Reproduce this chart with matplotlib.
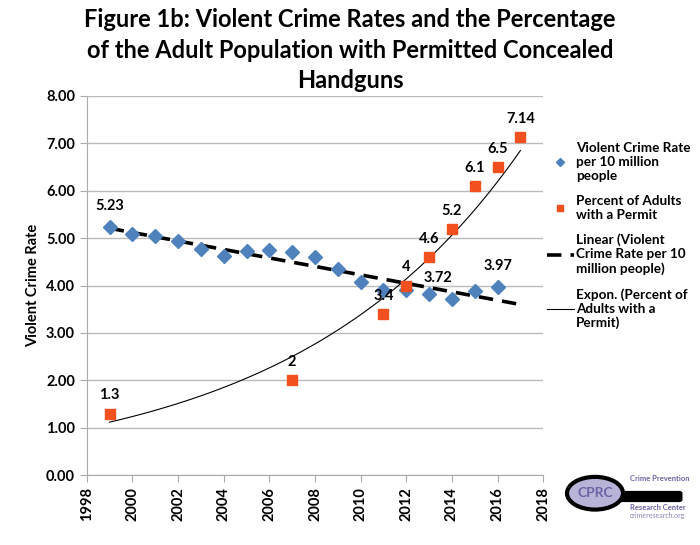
import matplotlib
matplotlib.use("Agg")
import matplotlib.pyplot as plt
import numpy as np
from matplotlib.patches import Circle, FancyBboxPatch

plt.rcParams['font.family'] = ['Lato', 'DejaVu Sans']

# violent crime rate per 10 million people
crime_years = np.arange(1999, 2017)
crime_rate = [5.23, 5.08, 5.05, 4.94, 4.77, 4.63, 4.72, 4.76, 4.70, 4.60,
              4.35, 4.07, 3.90, 3.90, 3.82, 3.72, 3.88, 3.97]

# percent of adults with a permit
permit_years = [1999, 2007, 2011, 2012, 2013, 2014, 2015, 2016, 2017]
permit_pct = [1.3, 2.0, 3.4, 4.0, 4.6, 5.2, 6.1, 6.5, 7.14]
permit_labels = ["1.3", "2", "3.4", "4", "4.6", "5.2", "6.1", "6.5", "7.14"]

x_ticks = list(range(1998, 2019, 2))
y_ticks = np.arange(0, 8.01, 1.0)

blue = "#4F81BD"
orange = "#F2501E"

fig = plt.figure(figsize=(7, 5.45), dpi=100)
ax = fig.add_axes([0.124, 0.128, 0.652, 0.696])

# trend lines
lin = np.polyfit(crime_years, crime_rate, 1)
tx = np.linspace(1999, 2017, 100)
ax.plot(tx, np.polyval(lin, tx), color="black", lw=2.6, ls=(0, (4, 2.5)),
        zorder=2, label="Linear (Violent\nCrime Rate per 10\nmillion people)")
ex = np.polyfit(permit_years, np.log(permit_pct), 1)
ax.plot(tx, np.exp(np.polyval(ex, tx)), color="black", lw=0.8, zorder=2,
        label="Expon. (Percent of\nAdults with a\nPermit)")

ax.plot(crime_years, crime_rate, ls="none", marker="D", ms=7.5, color=blue,
        zorder=3, label="Violent Crime Rate\nper 10 million\npeople")
ax.plot(permit_years, permit_pct, ls="none", marker="s", ms=6.5, color=orange,
        zorder=3, label="Percent of Adults\nwith a Permit")

lab_kw = dict(fontsize=10.5, fontweight="bold", ha="center", va="bottom")
for x, y, t in zip(permit_years, permit_pct, permit_labels):
    ax.annotate(t, (x, y), xytext=(0, 8), textcoords="offset points", **lab_kw)
for yr, dx in [(1999, 0), (2014, -10), (2016, 0)]:
    v = crime_rate[yr - 1999]
    ax.annotate(f"{v:.2f}", (yr, v), xytext=(dx, 10), textcoords="offset points", **lab_kw)

ax.set_xlim(1998, 2018)
ax.set_ylim(0, 8)
ax.set_xticks(x_ticks)
ax.set_yticks(y_ticks)
ax.set_yticklabels([f"{v:.2f}" for v in y_ticks])
ax.tick_params(axis="x", rotation=90)
for lbl in ax.get_xticklabels() + ax.get_yticklabels():
    lbl.set_fontweight("bold")
    lbl.set_fontsize(10.5)
ax.tick_params(color="#aaaaaa", length=5)
ax.grid(axis="y", color="#bbbbbb", lw=1)
ax.set_axisbelow(True)
for s in ["top", "right"]:
    ax.spines[s].set_visible(False)
for s in ["left", "bottom"]:
    ax.spines[s].set_color("#aaaaaa")
ax.set_ylabel("Violent Crime Rate", fontsize=10.5, fontweight="bold", labelpad=4)

h, l = ax.get_legend_handles_labels()
order = [2, 3, 0, 1]
handles = [h[i] for i in order]
leg = ax.legend(handles, [l[i] for i in order], loc="upper left",
                bbox_to_anchor=(0.99, 0.90), frameon=False, handlelength=2.0,
                handletextpad=0.15, labelspacing=0.95, borderaxespad=0.2,
                markerscale=0.6, prop={"weight": "bold", "size": 9.7})

fig.text(0.5, 0.985, "Figure 1b: Violent Crime Rates and the Percentage\n"
         "of the Adult Population with Permitted Concealed\nHandguns",
         fontsize=17, fontweight="bold", ha="center", va="top", linespacing=1.4)

# logo
la = fig.add_axes([0.80, 0.02, 0.2, 0.15])
la.set_xlim(0, 1)
la.set_ylim(0, 1)
la.axis("off")
la.add_patch(FancyBboxPatch((0.35, 0.42), 0.5, 0.08, boxstyle="round,pad=0.02",
                            color="black"))
la.add_patch(Circle((0.25, 0.5), 0.2, facecolor="#b8b4d8", edgecolor="black",
                    lw=3, transform=la.transData))
la.text(0.25, 0.5, "CPRC", ha="center", va="center", fontsize=10,
        fontweight="bold", color="#6a64a6")
la.text(0.5, 0.65, "Crime Prevention", fontsize=5.5, color="#6a64a6", fontweight="bold")
la.text(0.5, 0.3, "Research Center", fontsize=5.5, color="#6a64a6", fontweight="bold")
la.text(0.5, 0.2, "crimeresearch.org", fontsize=5, color="#8a86b6")

fig.savefig("out.png", dpi=100)
